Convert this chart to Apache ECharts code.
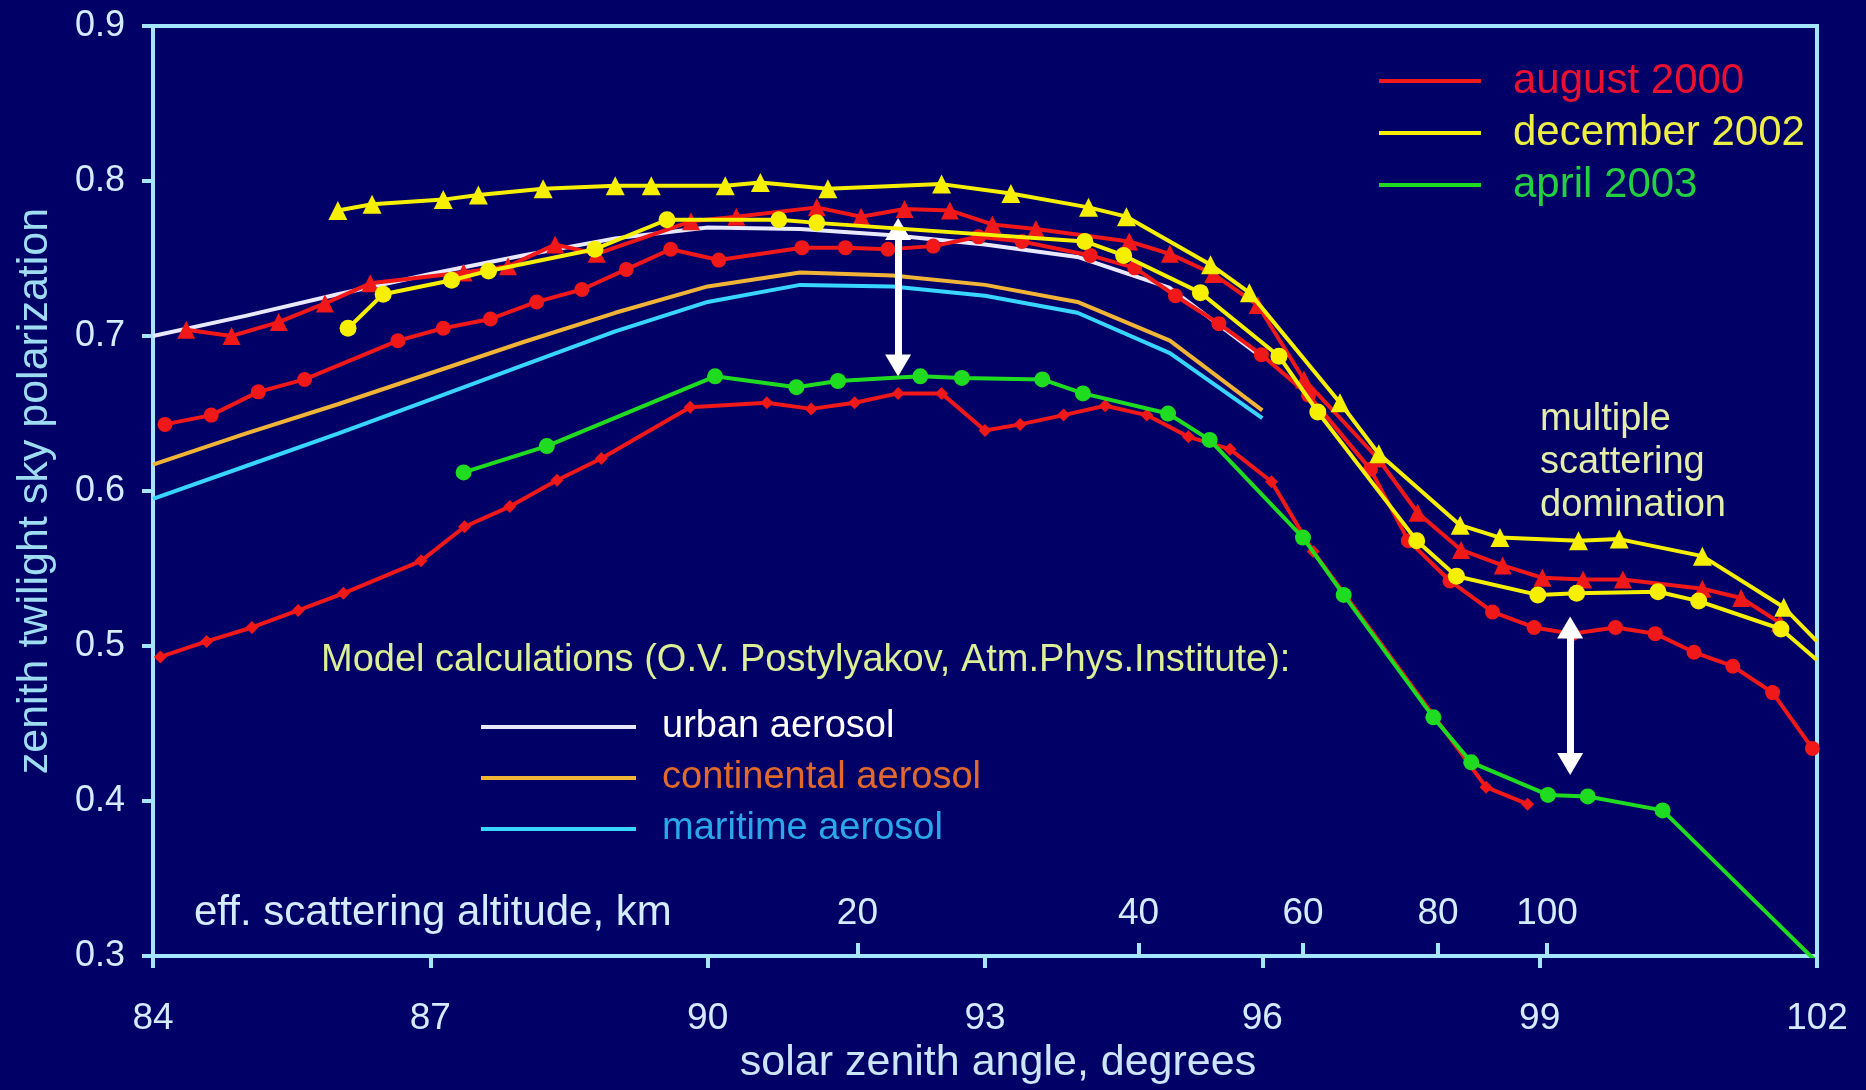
<!DOCTYPE html>
<html>
<head>
<meta charset="utf-8">
<title>zenith twilight sky polarization</title>
<script src="https://cdn.jsdelivr.net/npm/echarts@6/dist/echarts.min.js"></script>
<style>
html,body{margin:0;padding:0;background:#000066;}
#chart{width:1866px;height:1090px;}
</style>
</head>
<body>
<div id="chart"></div>
<script>
// measurements: [solar zenith angle, polarization]
var augTriangles = [[84.36,0.704],[84.85,0.700],[85.36,0.709],[85.86,0.721],[86.35,0.734],[87.36,0.741],[87.84,0.745],[88.35,0.759],[88.8,0.753],[89.82,0.774],[90.31,0.777],[91.18,0.783],[91.66,0.777],[92.13,0.782],[92.62,0.781],[93.08,0.772],[93.55,0.769],[94.56,0.761],[95.0,0.753],[95.47,0.740],[95.95,0.720],[96.45,0.672],[97.25,0.621],[97.68,0.586],[98.15,0.562],[98.6,0.552],[99.03,0.544],[99.47,0.543],[99.9,0.543],[100.76,0.537],[101.18,0.531],[101.6,0.515]];
var augCircles = [[84.13,0.643],[84.63,0.649],[85.14,0.664],[85.64,0.672],[86.65,0.697],[87.14,0.705],[87.65,0.711],[88.15,0.722],[88.64,0.730],[89.12,0.743],[89.6,0.756],[90.12,0.749],[91.02,0.757],[91.49,0.757],[91.95,0.756],[92.44,0.758],[92.93,0.764],[93.4,0.761],[94.14,0.752],[94.62,0.744],[95.06,0.726],[95.53,0.708],[95.99,0.688],[96.5,0.662],[97.17,0.614],[97.58,0.568],[98.03,0.542],[98.49,0.522],[98.94,0.512],[99.35,0.508],[99.82,0.512],[100.25,0.508],[100.67,0.496],[101.09,0.487],[101.52,0.470],[101.95,0.434]];
var augDiamonds = [[84.08,0.493],[84.58,0.503],[85.07,0.512],[85.57,0.523],[86.06,0.534],[86.9,0.555],[87.37,0.577],[87.86,0.590],[88.37,0.607],[88.85,0.621],[89.81,0.654],[90.64,0.657],[91.12,0.653],[91.59,0.657],[92.06,0.663],[92.53,0.663],[93.0,0.639],[93.38,0.643],[93.85,0.649],[94.3,0.655],[94.75,0.649],[95.2,0.635],[95.65,0.627],[96.1,0.606],[96.55,0.561],[98.42,0.409],[98.87,0.398]];
var decTriangles = [[86.0,0.781],[86.37,0.785],[87.14,0.788],[87.52,0.791],[88.22,0.795],[89.0,0.797],[89.39,0.797],[90.19,0.797],[90.57,0.799],[91.3,0.795],[92.53,0.798],[93.28,0.792],[94.12,0.783],[94.53,0.777],[95.44,0.746],[95.86,0.728],[96.84,0.657],[97.26,0.624],[98.14,0.578],[98.57,0.570],[99.42,0.568],[99.86,0.569],[100.76,0.558],[101.64,0.525],[102,0.503]];
var decCircles = [[86.11,0.705],[86.49,0.727],[87.23,0.736],[87.63,0.742],[88.78,0.756],[89.56,0.775],[90.77,0.775],[91.18,0.773],[94.08,0.761],[94.5,0.752],[95.33,0.728],[96.18,0.687],[96.6,0.651],[97.67,0.568],[98.1,0.545],[98.98,0.533],[99.4,0.534],[100.28,0.535],[100.72,0.529],[101.61,0.511],[102,0.491]];
var aprCircles = [[87.36,0.612],[88.26,0.629],[90.08,0.674],[90.96,0.667],[91.41,0.671],[92.3,0.674],[92.75,0.673],[93.62,0.672],[94.06,0.663],[94.98,0.650],[95.43,0.633],[96.44,0.570],[96.88,0.533],[97.85,0.454],[98.26,0.425],[99.09,0.404],[99.52,0.403],[100.33,0.394],[102,0.296]];

// model calculations
var modelAngles = [84,85,86,87,88,89,90,91,92,93,94,95,96];
var urbanModel = [0.700,0.713,0.727,0.740,0.752,0.763,0.770,0.769,0.765,0.759,0.751,0.731,0.686];
var continentalModel = [0.617,0.637,0.656,0.676,0.696,0.715,0.732,0.741,0.739,0.733,0.722,0.697,0.652];
var maritimeModel = [0.595,0.616,0.637,0.659,0.681,0.703,0.722,0.733,0.732,0.726,0.715,0.689,0.647];

// effective scattering altitude scale
var altKm = [20,40,60,80,100];
var altAngles = [91.62,94.66,96.44,97.9,99.08];

// double arrows (line ends, the heads reach a little further)
var arrowX = [92.06,99.33];
var arrowLow = [0.681,0.424];
var arrowHigh = [0.769,0.512];

var FONT = 'Liberation Sans, Arial, sans-serif';
var AXIS = '#a4e6ff';
var LABEL = '#d4ecff';
var RED = '#f01818', YELLOW = '#f6f000', GREEN = '#20dc20';

var chart = echarts.init(document.getElementById('chart'));

function measured(name, data, color, symbol, size, z){
    return {
        type: 'line', name: name, z: z,
        data: data.map(function(p){ return p[0] >= 102 ? {value: p, symbol: 'none'} : p; }),
        symbol: symbol, symbolSize: size, showSymbol: true,
        lineStyle: {color: color, width: 4},
        itemStyle: {color: color},
        emphasis: {disabled: true}
    };
}
function model(name, values, color){
    return {
        type: 'line', name: name, z: 2,
        data: modelAngles.map(function(x, i){ return [x, values[i]]; }),
        symbol: 'none',
        lineStyle: {color: color, width: 4},
        itemStyle: {color: color},
        emphasis: {disabled: true}
    };
}

var option = {
    backgroundColor: '#000066',
    animation: false,
    textStyle: {fontFamily: FONT},
    grid: {left: 153, right: 49, top: 26, bottom: 130, show: true, borderColor: AXIS, borderWidth: 4, backgroundColor: 'transparent'},
    legend: [
        {
            orient: 'vertical', left: 1374, top: 54,
            icon: 'rect', itemWidth: 102, itemHeight: 4, itemGap: 8,
            selectedMode: false,
            textStyle: {fontSize: 42, lineHeight: 44, padding: [0, 0, 0, 27], fontFamily: FONT},
            data: [
                {name: 'august 2000', textStyle: {color: '#ec1030'}},
                {name: 'december 2002', textStyle: {color: '#eeee44'}},
                {name: 'april 2003', textStyle: {color: '#22d040'}}
            ]
        },
        {
            orient: 'vertical', left: 476, top: 702,
            icon: 'rect', itemWidth: 155, itemHeight: 4, itemGap: 11,
            selectedMode: false,
            textStyle: {fontSize: 38, lineHeight: 40, padding: [0, 0, 0, 21], fontFamily: FONT},
            data: [
                {name: 'urban aerosol', textStyle: {color: '#ffffff'}},
                {name: 'continental aerosol', textStyle: {color: '#e2682c'}},
                {name: 'maritime aerosol', textStyle: {color: '#2aa8ea'}}
            ]
        }
    ],
    xAxis: [
        {
            type: 'value', min: 84, max: 102, interval: 3,
            name: 'solar zenith angle, degrees', nameLocation: 'middle', nameGap: 80,
            nameTextStyle: {color: '#cde6f7', fontSize: 43, fontFamily: FONT, padding: [0, 0, 0, 26]},
            axisLine: {show: true, lineStyle: {color: AXIS, width: 4}},
            axisTick: {show: true, inside: false, length: 12, lineStyle: {color: AXIS, width: 4}},
            axisLabel: {color: LABEL, fontSize: 37, margin: 44, fontFamily: FONT},
            splitLine: {show: false}
        },
        {
            type: 'value', min: 84, max: 102, position: 'bottom',
            axisLine: {show: false},
            axisTick: {show: true, inside: true, length: 13, customValues: altAngles, lineStyle: {color: AXIS, width: 4}},
            axisLabel: {
                show: true, inside: true, margin: 24, color: LABEL, fontSize: 37, fontFamily: FONT,
                customValues: altAngles,
                formatter: function(v){
                    var best = 0;
                    for (var i = 1; i < altAngles.length; i++) {
                        if (Math.abs(altAngles[i] - v) < Math.abs(altAngles[best] - v)) best = i;
                    }
                    return String(altKm[best]);
                }
            },
            splitLine: {show: false}
        }
    ],
    yAxis: {
        type: 'value', min: 0.3, max: 0.9, interval: 0.1,
        name: 'zenith twilight sky polarization', nameLocation: 'middle', nameGap: 96,
        nameTextStyle: {color: '#9edcf2', fontSize: 43, fontFamily: FONT},
        axisLine: {show: true, lineStyle: {color: AXIS, width: 4}},
        axisTick: {show: true, inside: false, length: 11, lineStyle: {color: AXIS, width: 4}},
        axisLabel: {color: LABEL, fontSize: 36, margin: 28, fontFamily: FONT, formatter: function(v){ return v.toFixed(1); }},
        splitLine: {show: false}
    },
    graphic: [
        {type: 'text', left: 194, top: 892, style: {text: 'eff. scattering altitude, km', fill: LABEL, font: '42px ' + FONT}},
        {type: 'text', left: 321, top: 642, style: {text: 'Model calculations (O.V. Postylyakov, Atm.Phys.Institute):', fill: '#dcee96', font: '38px ' + FONT}},
        {type: 'text', left: 1540, top: 398, style: {text: 'multiple\nscattering\ndomination', fill: '#e4eeaa', font: '38px ' + FONT, align: 'center', lineHeight: 43, x: 96}}
    ],
    series: [
        model('urban aerosol', urbanModel, '#e8e8ff'),
        model('continental aerosol', continentalModel, '#f2b436'),
        model('maritime aerosol', maritimeModel, '#38d6ff'),
        measured('august 2000', augDiamonds, RED, 'diamond', 13, 3),
        measured('august 2000', augCircles, RED, 'circle', 15, 4),
        measured('august 2000', augTriangles, RED, 'triangle', 18, 5),
        measured('december 2002', decCircles, YELLOW, 'circle', 17, 6),
        measured('december 2002', decTriangles, YELLOW, 'triangle', 19, 7),
        measured('april 2003', aprCircles, GREEN, 'circle', 16, 8),
        {
            type: 'line', name: 'arrows', data: [], z: 10,
            markLine: {
                silent: true, animation: false,
                symbol: ['triangle', 'triangle'], symbolSize: [26, 22],
                lineStyle: {color: '#ffffff', width: 7, type: 'solid'},
                label: {show: false},
                data: arrowX.map(function(x, i){
                    return [{coord: [x, arrowLow[i]]}, {coord: [x, arrowHigh[i]]}];
                })
            }
        }
    ]
};
chart.setOption(option);
</script>
</body>
</html>
